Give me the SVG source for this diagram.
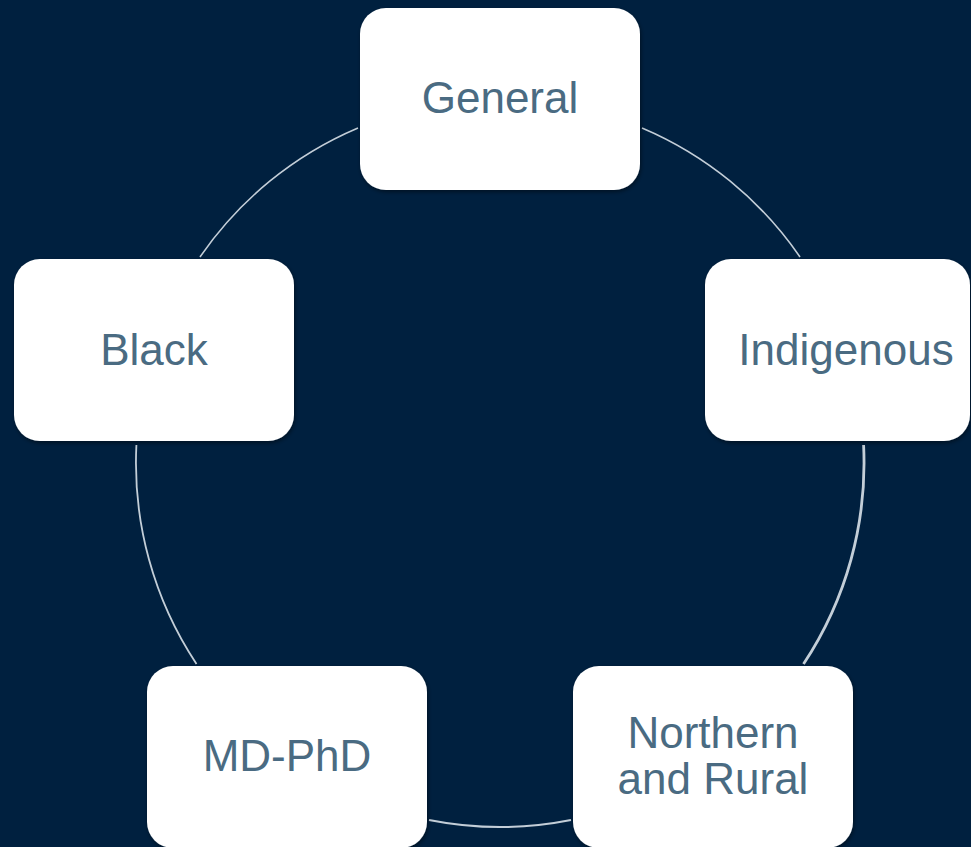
<svg xmlns="http://www.w3.org/2000/svg" width="971" height="847" viewBox="0 0 971 847">
<defs>
<filter id="sh" x="-10%" y="-10%" width="120%" height="125%">
<feDropShadow dx="1" dy="2" stdDeviation="2" flood-color="#000000" flood-opacity="0.45"/>
</filter>
<style>
.box{fill:#FFFFFF;filter:url(#sh);}
.lbl{font-family:"Liberation Sans",Arial,sans-serif;font-size:44px;fill:#4A6B82;text-anchor:middle;}
.arc{fill:none;stroke:#C3CED8;stroke-width:1.6;}
</style>
</defs>
<rect x="0" y="0" width="971" height="847" fill="#00203F"/>
<g id="connectors">
<path class="arc" d="M642,128 A364,364 0 0 1 800,257"/>
<path class="arc" style="stroke-width:2.8" d="M863.6,445 A364,364 0 0 1 803.5,664"/>
<path class="arc" style="stroke-width:2" d="M571,820 A364,364 0 0 1 429,820"/>
<path class="arc" style="stroke-width:1.8" d="M196.5,664 A364,364 0 0 1 136.4,445"/>
<path class="arc" d="M200,257 A364,364 0 0 1 358,128"/>
</g>
<g id="general">
<rect class="box" x="360" y="8" width="280" height="182" rx="26"/>
<text class="lbl" x="500" y="113">General</text>
</g>
<g id="indigenous">
<rect class="box" x="705" y="259" width="265" height="182" rx="26"/>
<text class="lbl" x="846" y="365">Indigenous</text>
</g>
<g id="northern">
<rect class="box" x="573" y="666" width="280" height="182" rx="26"/>
<text class="lbl" x="713" y="748">Northern</text>
<text class="lbl" x="713" y="794">and Rural</text>
</g>
<g id="mdphd">
<rect class="box" x="147" y="666" width="280" height="182" rx="26"/>
<text class="lbl" x="287" y="771">MD-PhD</text>
</g>
<g id="black">
<rect class="box" x="14" y="259" width="280" height="182" rx="26"/>
<text class="lbl" x="154" y="365">Black</text>
</g>
</svg>
